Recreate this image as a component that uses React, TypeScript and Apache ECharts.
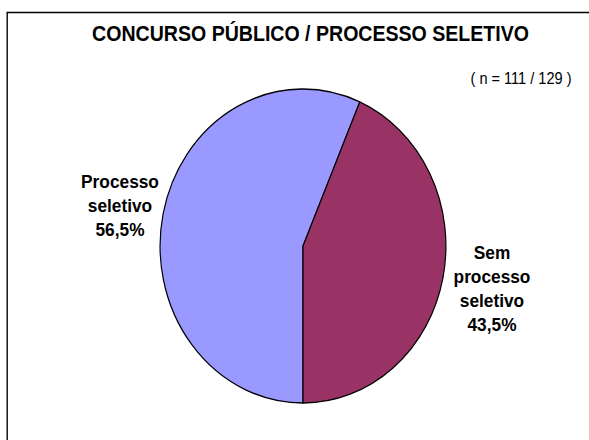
import React, { useEffect, useRef } from "react";
import * as echarts from "echarts";

const titleText = "CONCURSO PÚBLICO / PROCESSO SELETIVO";
const sampleNote = "( n = 111 / 129 )";
const categories = ["Processo seletivo", "Sem processo seletivo"];
const labelLines = [["Processo", "seletivo"], ["Sem", "processo", "seletivo"]];
const values = [56.5, 43.5];
const colors = ["#9999FF", "#993366"];

// The reference picture is horizontally compressed; draw at a wider
// logical width and squeeze it back to 589px.
const W = 647;
const SX = 589 / W;

export default function App() {
  const ref = useRef<HTMLDivElement>(null);
  useEffect(() => {
    if (!ref.current) return;
    const chart = echarts.init(ref.current, null, { renderer: "svg" });
    const fmt = (v: number) => v.toFixed(1).replace(".", ",") + "%";
    const u = (x: number) => x / SX;
    const labelPos = [
      { x: u(120), y: 170 },
      { x: u(492), y: 241 },
    ];
    chart.setOption({
      animation: false,
      backgroundColor: "#ffffff",
      title: {
        text: titleText,
        left: u(306),
        textAlign: "center",
        top: 17,
        textStyle: {
          fontFamily: "Liberation Sans, Arial, sans-serif",
          fontSize: 21.5,
          fontWeight: "bold",
          color: "#000",
        },
      },
      graphic: [
        {
          type: "rect",
          shape: { x: u(7.2), y: 12.5, width: 800, height: 600 },
          style: { fill: "none", stroke: "#000", lineWidth: 1.5 },
          silent: true,
          z: -1,
        },
        {
          type: "text",
          x: u(521),
          y: 70,
          style: {
            text: sampleNote,
            textAlign: "center",
            font: "16px Liberation Sans, Arial, sans-serif",
            fill: "#000",
          },
        },
        ...categories.map((c, i) => ({
          type: "text",
          x: labelPos[i].x,
          y: labelPos[i].y,
          style: {
            text: [...labelLines[i], fmt(values[i])].join("\n"),
            textAlign: "center",
            font: "bold 19px Liberation Sans, Arial, sans-serif",
            lineHeight: 24,
            fill: "#000",
          },
        })),
      ],
      series: [
        {
          type: "pie",
          center: [u(303), 246],
          radius: [0, 157],
          startAngle: 270,
          clockwise: true,
          label: { show: false },
          labelLine: { show: false },
          itemStyle: { borderColor: "#000", borderWidth: 1.3 },
          data: categories.map((c, i) => ({
            name: c,
            value: values[i],
            itemStyle: { color: colors[i] },
          })),
        },
      ],
    });
    return () => chart.dispose();
  }, []);
  return (
    <div
      ref={ref}
      style={{
        position: "fixed",
        left: 0,
        top: 0,
        width: W,
        height: 440,
        transform: `scaleX(${SX})`,
        transformOrigin: "0 0",
      }}
    />
  );
}
